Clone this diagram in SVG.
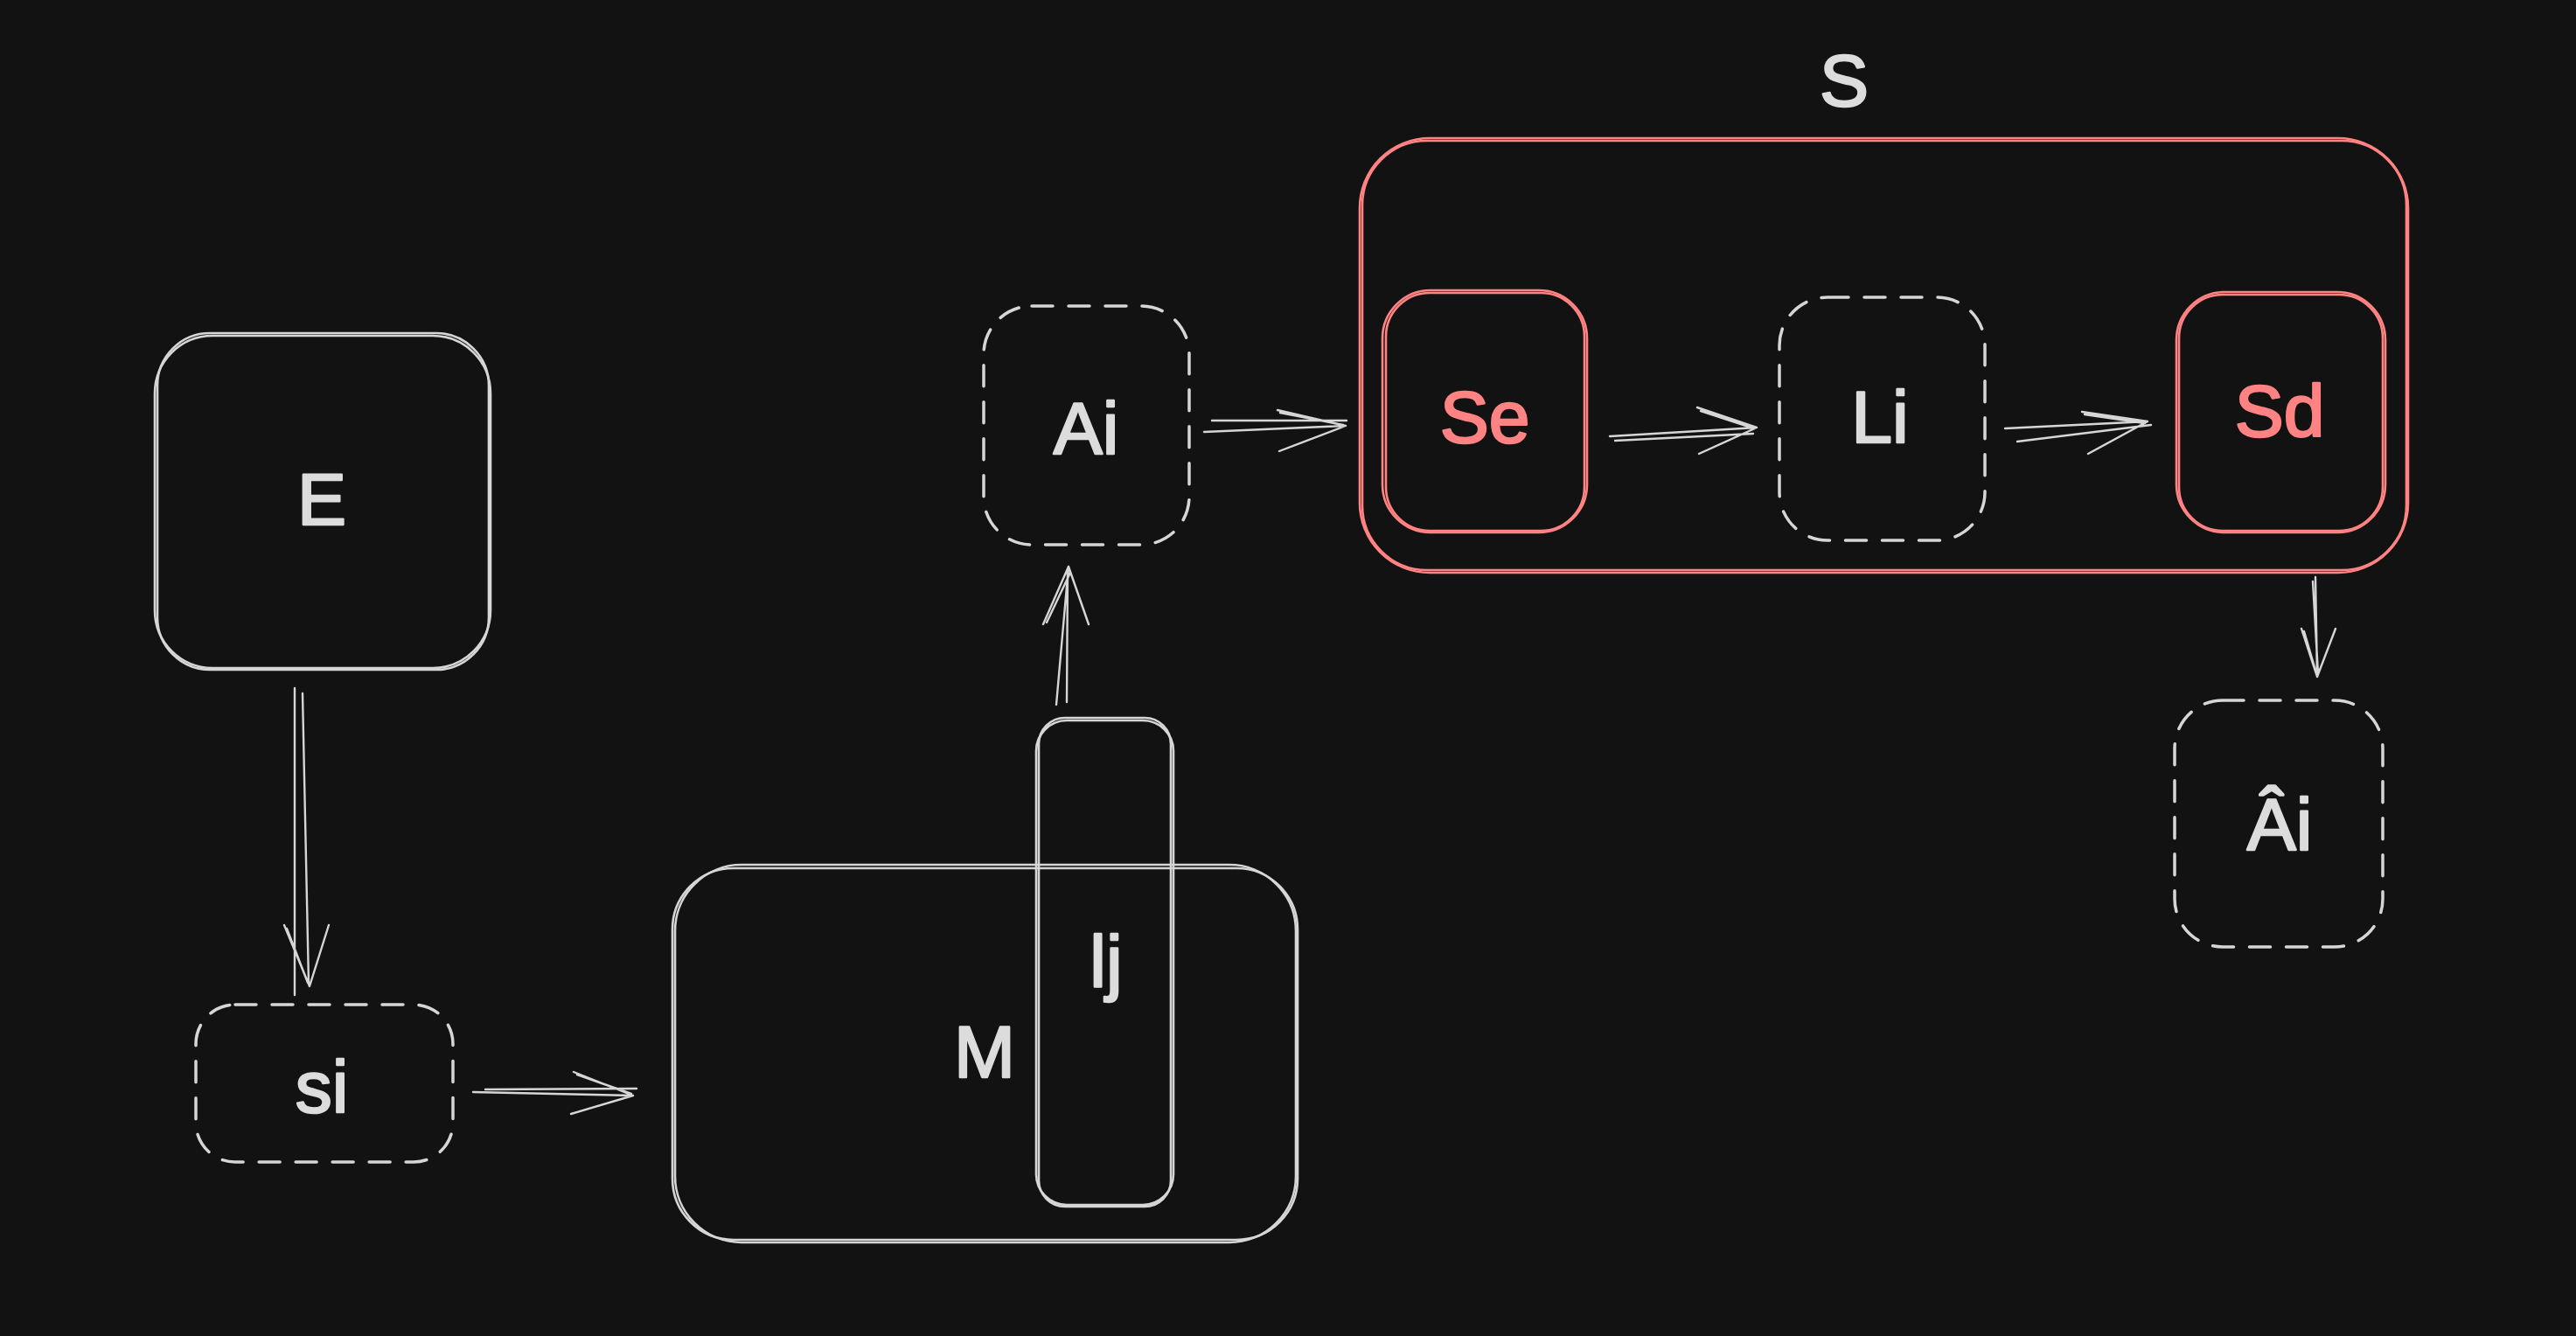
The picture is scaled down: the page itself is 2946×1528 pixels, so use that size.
<svg xmlns="http://www.w3.org/2000/svg" width="2946" height="1528" viewBox="0 0 2946 1528">
<style>
.bg{fill:#121212}
.w{fill:none;stroke:#d6d6d6;stroke-width:2.6;stroke-linecap:round;stroke-linejoin:round}
.r{fill:none;stroke:#ff8383;stroke-width:2.6;stroke-linecap:round;stroke-linejoin:round}
.d{fill:none;stroke:#d6d6d6;stroke-width:3.5;stroke-dasharray:24 18;stroke-linecap:round}
.t{font-family:"Liberation Sans","DejaVu Sans",sans-serif;font-size:84px;fill:#dcdcdc;stroke:#dcdcdc;stroke-width:2.5;stroke-linejoin:round;text-anchor:middle}
.tr{font-family:"Liberation Sans","DejaVu Sans",sans-serif;font-size:84px;fill:#ff8383;stroke:#ff8383;stroke-width:2.5;stroke-linejoin:round;text-anchor:middle}
.a{fill:none;stroke:#d6d6d6;stroke-width:2.4;stroke-linecap:round;stroke-linejoin:round}
</style>
<rect class="bg" x="0" y="0" width="2946" height="1528"/>

<g id="node-E">
<rect class="w" x="180" y="381" width="379" height="385" rx="60"/>
<rect class="w" x="177" y="384" width="384" height="380" rx="66"/>
<text class="t" x="368" y="600">E</text>
</g>

<g id="node-si">
<rect class="d" x="224" y="1149" width="294" height="180" rx="45"/>
<text class="t" x="368" y="1272">si</text>
</g>

<g id="node-M">
<rect class="w" x="769" y="993" width="715" height="425" rx="70"/>
<rect class="w" x="772" y="989" width="710" height="432" rx="76"/>
<text class="t" x="1126" y="1232">M</text>
</g>

<g id="node-lj">
<rect class="w" x="1185" y="824" width="157" height="554" rx="35"/>
<rect class="w" x="1188" y="821" width="151" height="559" rx="30"/>
<text class="t" x="1265" y="1129">lj</text>
</g>

<g id="node-Ai">
<rect class="d" x="1125" y="350" width="235" height="273" rx="55"/>
<text class="t" x="1242" y="519">Ai</text>
</g>

<g id="node-S">
<rect class="r" x="1555" y="158" width="1199" height="497" rx="80"/>
<rect class="r" x="1558" y="161" width="1194" height="491" rx="74"/>
<text class="t" x="2109" y="121">S</text>
</g>

<g id="node-Se">
<rect class="r" x="1581" y="332" width="234" height="277" rx="55"/>
<rect class="r" x="1585" y="335" width="227" height="272" rx="50"/>
<text class="tr" x="1698" y="506">Se</text>
</g>

<g id="node-Li">
<rect class="d" x="2035" y="340" width="235" height="278" rx="55"/>
<text class="t" x="2150" y="506">Li</text>
</g>

<g id="node-Sd">
<rect class="r" x="2489" y="334" width="239" height="275" rx="55"/>
<rect class="r" x="2492" y="337" width="233" height="270" rx="50"/>
<text class="tr" x="2607" y="499">Sd</text>
</g>

<g id="node-Ahat">
<rect class="d" x="2487" y="801" width="238" height="282" rx="55"/>
<text class="t" x="2607" y="972">Âi</text>
</g>

<g id="connectors">
<path class="a" d="M337,787 L337,1138 M346,793 L353,1125 M325,1058 L354,1128 L376,1058 M328,1062 L352,1124"/>
<path class="a" d="M541,1249 L724,1253 M555,1246 L728,1245 M656,1226 L724,1253 L653,1274 M660,1229 L722,1251"/>
<path class="a" d="M1208,806 L1222,648 M1220,803 L1221,652 M1193,714 L1222,648 L1245,714 M1197,712 L1224,655"/>
<path class="a" d="M1377,494 L1539,487 M1386,481 L1540,481 M1461,469 L1539,487 L1463,516 M1464,472 L1536,486"/>
<path class="a" d="M1841,499 L2009,489 M1847,504 L2005,496 M1941,466 L2009,489 L1943,519 M1945,470 L2006,490"/>
<path class="a" d="M2293,490 L2456,482 M2307,505 L2460,486 M2381,471 L2456,482 L2388,519 M2384,474 L2453,484"/>
<path class="a" d="M2648,660 L2650,774 M2645,665 L2651,770 M2632,719 L2650,774 L2671,719 M2635,722 L2649,770"/>
</g>
</svg>
